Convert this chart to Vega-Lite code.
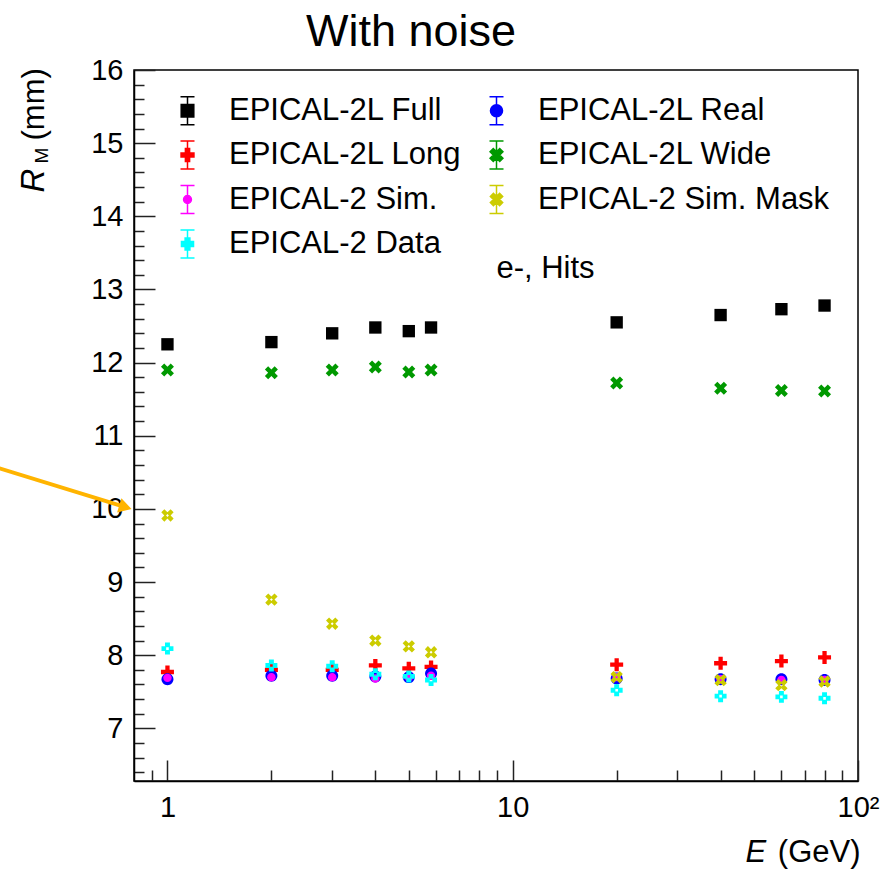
{
  "$schema": "https://vega.github.io/schema/vega-lite/v6.json",
  "autosize": {"type": "none"},
  "width": 724,
  "height": 711,
  "padding": {"left": 134, "top": 70, "right": 28, "bottom": 91},
  "background": "white",
  "title": {"text": "With noise", "fontSize": 45, "font": "Liberation Sans", "fontWeight": "normal", "color": "black", "anchor": "middle", "dx": -85, "offset": 14, "dy": 13},
  "config": {
    "view": {"stroke": "black", "strokeWidth": 1.5},
    "axis": {"grid": false, "labelFont": "Liberation Sans", "titleFont": "Liberation Sans", "labelColor": "black", "titleColor": "black", "tickColor": "#222", "tickWidth": 1.5, "domainColor": "black", "domainWidth": 1.5, "labelFlush": false, "labelOverlap": false, "titleFontWeight": "normal"},
    "legend": {"labelFont": "Liberation Sans", "labelFontSize": 31, "labelColor": "black", "labelLimit": 0}
  },
  "datasets": {
    "pts": [
      {"E": 1, "R": 12.25, "s": "EPICAL-2L Full"}, {"E": 2, "R": 12.28, "s": "EPICAL-2L Full"}, {"E": 3, "R": 12.40, "s": "EPICAL-2L Full"}, {"E": 4, "R": 12.48, "s": "EPICAL-2L Full"}, {"E": 5, "R": 12.43, "s": "EPICAL-2L Full"}, {"E": 5.8, "R": 12.48, "s": "EPICAL-2L Full"}, {"E": 20, "R": 12.55, "s": "EPICAL-2L Full"}, {"E": 40, "R": 12.65, "s": "EPICAL-2L Full"}, {"E": 60, "R": 12.73, "s": "EPICAL-2L Full"}, {"E": 80, "R": 12.78, "s": "EPICAL-2L Full"},
      {"E": 1, "R": 11.90, "s": "EPICAL-2L Wide"}, {"E": 2, "R": 11.86, "s": "EPICAL-2L Wide"}, {"E": 3, "R": 11.90, "s": "EPICAL-2L Wide"}, {"E": 4, "R": 11.94, "s": "EPICAL-2L Wide"}, {"E": 5, "R": 11.87, "s": "EPICAL-2L Wide"}, {"E": 5.8, "R": 11.90, "s": "EPICAL-2L Wide"}, {"E": 20, "R": 11.72, "s": "EPICAL-2L Wide"}, {"E": 40, "R": 11.65, "s": "EPICAL-2L Wide"}, {"E": 60, "R": 11.62, "s": "EPICAL-2L Wide"}, {"E": 80, "R": 11.61, "s": "EPICAL-2L Wide"},
      {"E": 1, "R": 7.77, "s": "EPICAL-2L Long"}, {"E": 2, "R": 7.80, "s": "EPICAL-2L Long"}, {"E": 3, "R": 7.80, "s": "EPICAL-2L Long"}, {"E": 4, "R": 7.86, "s": "EPICAL-2L Long"}, {"E": 5, "R": 7.82, "s": "EPICAL-2L Long"}, {"E": 5.8, "R": 7.84, "s": "EPICAL-2L Long"}, {"E": 20, "R": 7.87, "s": "EPICAL-2L Long"}, {"E": 40, "R": 7.89, "s": "EPICAL-2L Long"}, {"E": 60, "R": 7.92, "s": "EPICAL-2L Long"}, {"E": 80, "R": 7.97, "s": "EPICAL-2L Long"},
      {"E": 1, "R": 7.67, "s": "EPICAL-2L Real"}, {"E": 2, "R": 7.72, "s": "EPICAL-2L Real"}, {"E": 3, "R": 7.72, "s": "EPICAL-2L Real"}, {"E": 4, "R": 7.71, "s": "EPICAL-2L Real"}, {"E": 5, "R": 7.70, "s": "EPICAL-2L Real"}, {"E": 5.8, "R": 7.75, "s": "EPICAL-2L Real"}, {"E": 20, "R": 7.68, "s": "EPICAL-2L Real"}, {"E": 40, "R": 7.67, "s": "EPICAL-2L Real"}, {"E": 60, "R": 7.67, "s": "EPICAL-2L Real"}, {"E": 80, "R": 7.66, "s": "EPICAL-2L Real"},
      {"E": 1, "R": 7.69, "s": "EPICAL-2 Sim."}, {"E": 2, "R": 7.70, "s": "EPICAL-2 Sim."}, {"E": 3, "R": 7.70, "s": "EPICAL-2 Sim."}, {"E": 4, "R": 7.68, "s": "EPICAL-2 Sim."}, {"E": 5, "R": 7.70, "s": "EPICAL-2 Sim."}, {"E": 5.8, "R": 7.72, "s": "EPICAL-2 Sim."}, {"E": 20, "R": 7.70, "s": "EPICAL-2 Sim."}, {"E": 40, "R": 7.67, "s": "EPICAL-2 Sim."}, {"E": 60, "R": 7.66, "s": "EPICAL-2 Sim."}, {"E": 80, "R": 7.66, "s": "EPICAL-2 Sim."},
      {"E": 1, "R": 8.09, "s": "EPICAL-2 Data"}, {"E": 2, "R": 7.86, "s": "EPICAL-2 Data"}, {"E": 3, "R": 7.85, "s": "EPICAL-2 Data"}, {"E": 4, "R": 7.74, "s": "EPICAL-2 Data"}, {"E": 5, "R": 7.71, "s": "EPICAL-2 Data"}, {"E": 5.8, "R": 7.66, "s": "EPICAL-2 Data"}, {"E": 20, "R": 7.52, "s": "EPICAL-2 Data"}, {"E": 40, "R": 7.44, "s": "EPICAL-2 Data"}, {"E": 60, "R": 7.43, "s": "EPICAL-2 Data"}, {"E": 80, "R": 7.41, "s": "EPICAL-2 Data"},
      {"E": 1, "R": 9.91, "s": "EPICAL-2 Sim. Mask"}, {"E": 2, "R": 8.76, "s": "EPICAL-2 Sim. Mask"}, {"E": 3, "R": 8.43, "s": "EPICAL-2 Sim. Mask"}, {"E": 4, "R": 8.20, "s": "EPICAL-2 Sim. Mask"}, {"E": 5, "R": 8.12, "s": "EPICAL-2 Sim. Mask"}, {"E": 5.8, "R": 8.04, "s": "EPICAL-2 Sim. Mask"}, {"E": 20, "R": 7.70, "s": "EPICAL-2 Sim. Mask"}, {"E": 40, "R": 7.66, "s": "EPICAL-2 Sim. Mask"}, {"E": 60, "R": 7.59, "s": "EPICAL-2 Sim. Mask"}, {"E": 80, "R": 7.64, "s": "EPICAL-2 Sim. Mask"}
    ]
  },
  "resolve": {"scale": {"shape": "independent", "color": "independent", "stroke": "independent"}, "axis": {"x": "independent", "y": "independent"}},
  "layer": [
    {
      "data": {"values": [{"E": 0.3252, "R": 10.556, "E2": 0.7554, "R2": 10.023}]},
      "mark": {"type": "rule", "color": "#ffb400", "strokeWidth": 4},
      "encoding": {
        "x": {"field": "E", "type": "quantitative", "scale": {"type": "log", "domain": [0.8, 100], "nice": false},
          "axis": {"orient": "bottom", "values": [0.9, 2, 3, 4, 5, 6, 7, 8, 9, 20, 30, 40, 50, 60, 70, 80, 90], "tickSize": -11, "labels": false, "domain": false, "title": "E", "titleFontStyle": "italic", "titleFontSize": 31, "titleX": 611, "titleY": 80, "titleAlign": "left", "titleBaseline": "alphabetic"}},
        "x2": {"field": "E2"},
        "y": {"field": "R", "type": "quantitative", "scale": {"domain": [6.28, 16], "nice": false, "zero": false},
          "axis": {"orient": "left", "values": [6.4, 6.6, 6.8, 7.2, 7.4, 7.6, 7.8, 8.2, 8.4, 8.6, 8.8, 9.2, 9.4, 9.6, 9.8, 10.2, 10.4, 10.6, 10.8, 11.2, 11.4, 11.6, 11.8, 12.2, 12.4, 12.6, 12.8, 13.2, 13.4, 13.6, 13.8, 14.2, 14.4, 14.6, 14.8, 15.2, 15.4, 15.6, 15.8], "tickSize": -10, "labels": false, "domain": false, "title": "R", "titleFontStyle": "italic", "titleFontSize": 33, "titleAngle": -90, "titleX": -91, "titleY": 122, "titleAlign": "left", "titleBaseline": "alphabetic"}},
        "y2": {"field": "R2"}
      }
    },
    {
      "data": {"values": [{"E": 0.7554, "R": 10.023}]},
      "mark": {"type": "point", "shape": "triangle-right", "filled": true, "color": "#ffb400", "size": 220, "angle": 17, "opacity": 1},
      "encoding": {
        "x": {"field": "E", "type": "quantitative", "axis": null},
        "y": {"field": "R", "type": "quantitative", "axis": null}
      }
    },
    {
      "data": {"name": "pts"},
      "mark": {"type": "point", "filled": true, "opacity": 0, "size": 784},
      "encoding": {
        "x": {"field": "E", "type": "quantitative", "axis": null},
        "y": {"field": "R", "type": "quantitative", "axis": null},
        "color": {"field": "s", "type": "nominal",
          "scale": {"domain": ["EPICAL-2L Full", "EPICAL-2L Long", "EPICAL-2 Sim.", "EPICAL-2 Data", "EPICAL-2L Real", "EPICAL-2L Wide", "EPICAL-2 Sim. Mask"],
                    "range": ["#000000", "#ff0000", "#ff00ff", "#00ffff", "#0000ff", "#009900", "#cccc00"]},
          "legend": {"orient": "none", "legendX": 38, "legendY": 25, "columns": 2, "columnPadding": 19, "rowPadding": 9.5, "symbolSize": 784, "symbolStrokeWidth": 1.5, "symbolOpacity": 1, "labelOffset": 26, "padding": 0, "title": null}},
        "stroke": {"field": "s", "type": "nominal",
          "scale": {"domain": ["EPICAL-2L Full", "EPICAL-2L Long", "EPICAL-2 Sim.", "EPICAL-2 Data", "EPICAL-2L Real", "EPICAL-2L Wide", "EPICAL-2 Sim. Mask"],
                    "range": ["#000000", "#ff0000", "#ff00ff", "#00ffff", "#0000ff", "#009900", "#cccc00"]},
          "legend": {"orient": "none", "legendX": 38, "legendY": 25, "columns": 2, "columnPadding": 19, "rowPadding": 9.5, "symbolSize": 784, "symbolStrokeWidth": 1.5, "symbolOpacity": 1, "labelOffset": 26, "padding": 0, "title": null}},
        "shape": {"field": "s", "type": "nominal",
          "scale": {"domain": ["EPICAL-2L Full", "EPICAL-2L Long", "EPICAL-2 Sim.", "EPICAL-2 Data", "EPICAL-2L Real", "EPICAL-2L Wide", "EPICAL-2 Sim. Mask"],
                    "range": [
                      "M0,-1V1M-0.5,-1H0.5M-0.5,1H0.5M-0.45,-0.45H0.45V0.45H-0.45Z",
                      "M0,-1V1M-0.5,-1H0.5M-0.5,1H0.5M-0.15,-0.46H0.15V-0.15H0.46V0.15H0.15V0.46H-0.15V0.15H-0.46V-0.15H-0.15Z",
                      "M0,-1V1M-0.5,-1H0.5M-0.5,1H0.5M-0.28,0A0.28,0.28,0,1,0,0.28,0A0.28,0.28,0,1,0,-0.28,0Z",
                      "M0,-1V1M-0.5,-1H0.5M-0.5,1H0.5M-0.17,-0.43H0.17V-0.17H0.43V0.17H0.17V0.43H-0.17V0.17H-0.43V-0.17H-0.17Z",
                      "M0,-1V1M-0.5,-1H0.5M-0.5,1H0.5M-0.43,0A0.43,0.43,0,1,0,0.43,0A0.43,0.43,0,1,0,-0.43,0Z",
                      "M0,-1V1M-0.5,-1H0.5M-0.5,1H0.5M-0.46,-0.23L-0.23,-0.46L0,-0.23L0.23,-0.46L0.46,-0.23L0.23,0L0.46,0.23L0.23,0.46L0,0.23L-0.23,0.46L-0.46,0.23L-0.23,0Z",
                      "M0,-1V1M-0.5,-1H0.5M-0.5,1H0.5M-0.44,-0.22L-0.22,-0.44L0,-0.22L0.22,-0.44L0.44,-0.22L0.22,0L0.44,0.22L0.22,0.44L0,0.22L-0.22,0.44L-0.44,0.22L-0.22,0Z"
                    ]},
          "legend": {"orient": "none", "legendX": 38, "legendY": 25, "columns": 2, "columnPadding": 19, "rowPadding": 9.5, "symbolSize": 784, "symbolStrokeWidth": 1.5, "symbolOpacity": 1, "labelOffset": 26, "padding": 0, "title": null}}
      }
    },
    {
      "data": {"name": "pts"},
      "mark": {"type": "point", "filled": true, "opacity": 1, "size": 169},
      "encoding": {
        "x": {"field": "E", "type": "quantitative",
          "axis": {"orient": "bottom", "values": [1, 10, 100], "tickSize": -21, "labelExpr": "datum.value == 100 ? '10²' : datum.label", "labelFontSize": 29, "labelPadding": 33, "title": "(GeV)", "titleFontSize": 31, "titleX": 726, "titleY": 80, "titleAlign": "right", "titleBaseline": "alphabetic"}},
        "y": {"field": "R", "type": "quantitative",
          "axis": {"orient": "left", "values": [7, 8, 9, 10, 11, 12, 13, 14, 15, 16], "tickSize": -21, "labelFontSize": 29, "labelPadding": 32, "title": "(mm)", "titleFontSize": 31, "titleAngle": -90, "titleX": -91, "titleY": 70, "titleAlign": "left", "titleBaseline": "alphabetic"}},
        "fill": {"field": "s", "type": "nominal",
          "scale": {"domain": ["EPICAL-2L Full", "EPICAL-2L Long", "EPICAL-2 Sim.", "EPICAL-2 Data", "EPICAL-2L Real", "EPICAL-2L Wide", "EPICAL-2 Sim. Mask"],
                    "range": ["#000000", "#ff0000", "#ff00ff", "#00ffff", "#0000ff", "#009900", "#cccc00"]},
          "legend": null},
        "shape": {"field": "s", "type": "nominal",
          "scale": {"domain": ["EPICAL-2L Full", "EPICAL-2L Long", "EPICAL-2 Sim.", "EPICAL-2 Data", "EPICAL-2L Real", "EPICAL-2L Wide", "EPICAL-2 Sim. Mask"],
                    "range": [
                      "M-0.95,-0.95H0.95V0.95H-0.95Z",
                      "M-0.33,-1H0.33V-0.33H1V0.33H0.33V1H-0.33V0.33H-1V-0.33H-0.33Z",
                      "M-0.65,0A0.65,0.65,0,1,0,0.65,0A0.65,0.65,0,1,0,-0.65,0Z",
                      "M-0.38,-0.92H0.38V-0.38H0.92V0.38H0.38V0.92H-0.38V0.38H-0.92V-0.38H-0.38ZM-0.2,-0.2V0.2H0.2V-0.2Z",
                      "M-0.92,0A0.92,0.92,0,1,0,0.92,0A0.92,0.92,0,1,0,-0.92,0Z",
                      "M-1,-0.5L-0.5,-1L0,-0.5L0.5,-1L1,-0.5L0.5,0L1,0.5L0.5,1L0,0.5L-0.5,1L-1,0.5L-0.5,0Z",
                      "M-0.95,-0.48L-0.48,-0.95L0,-0.48L0.48,-0.95L0.95,-0.48L0.48,0L0.95,0.48L0.48,0.95L0,0.48L-0.48,0.95L-0.95,0.48L-0.48,0ZM0,-0.22L-0.22,0L0,0.22L0.22,0Z"
                    ]},
          "legend": null}
      }
    },
    {
      "data": {"values": [{"E": 8.97, "R": 13.155, "label": "e-, Hits"}]},
      "mark": {"type": "text", "align": "left", "baseline": "alphabetic", "fontSize": 31, "font": "Liberation Sans", "color": "black"},
      "encoding": {
        "x": {"field": "E", "type": "quantitative", "axis": null},
        "y": {"field": "R", "type": "quantitative",
          "axis": {"orient": "left", "ticks": false, "labels": false, "domain": false, "title": "M", "titleFontSize": 19, "titleAngle": -90, "titleX": -87, "titleY": 93, "titleAlign": "left", "titleBaseline": "alphabetic"}},
        "text": {"field": "label"}
      }
    }
  ]
}
